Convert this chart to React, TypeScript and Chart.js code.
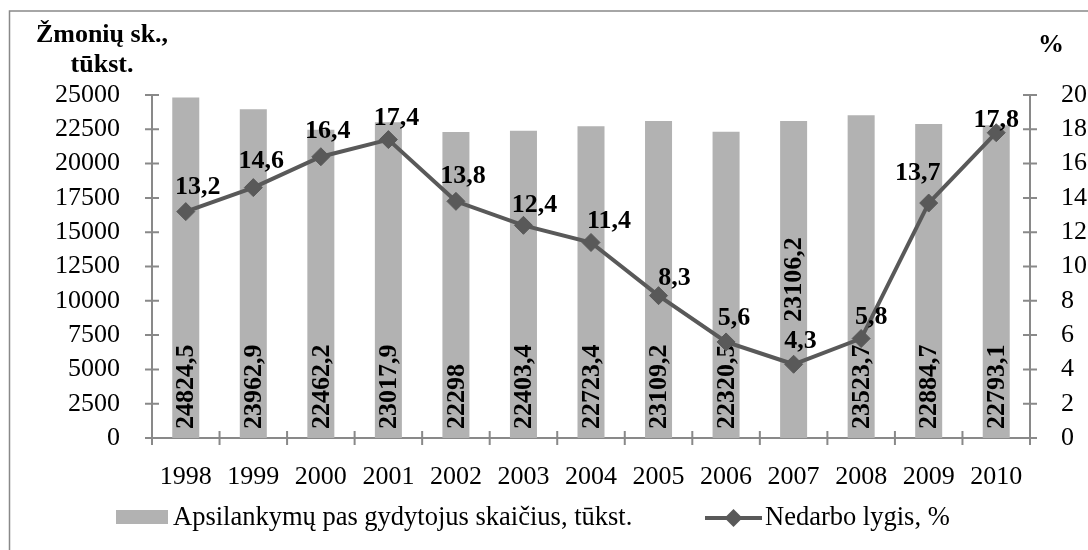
import React, { useEffect, useRef } from "react";
import { Chart, registerables } from "chart.js";

Chart.register(...registerables);

// ---- data ----
const YEARS = ["1998", "1999", "2000", "2001", "2002", "2003", "2004", "2005", "2006", "2007", "2008", "2009", "2010"];
const VISITS = [24824.5, 23962.9, 22462.2, 23017.9, 22298, 22403.4, 22723.4, 23109.2, 22320.5, 23106.2, 23523.7, 22884.7, 22793.1];
const UNEMPLOYMENT = [13.2, 14.6, 16.4, 17.4, 13.8, 12.4, 11.4, 8.3, 5.6, 4.3, 5.8, 13.7, 17.8];
const VISITS_LABEL = "Apsilankymų pas gydytojus skaičius, tūkst.";
const UNEMPLOYMENT_LABEL = "Nedarbo lygis, %";
const LEFT_TITLE = ["Žmonių sk.,", "tūkst."];
const RIGHT_TITLE = "%";
const LEFT_MAX = 25000;
const LEFT_STEP = 2500;
const RIGHT_MAX = 20;
const RIGHT_STEP = 2;

// ---- label placement styling ----
const BAR_LABEL_ANCHOR = ["base", "base", "base", "base", "base", "base", "base", "base", "base", "center", "base", "base", "base"];
const LINE_LABEL_DX = [12, 8, 7, 8, 7, 11, 18, 16, 8, 7, 10, -11, 0];
const LINE_LABEL_DY = [18, 20, 19, 15, 18, 13, 14, 11, 17, 16, 15, 23, 6];

// ---- style ----
const FONT_FAMILY = '"Liberation Serif", "Times New Roman", serif';
const BAR_COLOR = "#B2B2B2";
const LINE_COLOR = "#595959";
const AXIS_COLOR = "#898989";
const TEXT_COLOR = "#000000";

const fmt = (v: number) => String(v).replace(".", ",");

const decorPlugin = {
  id: "decor",
  beforeDatasetsDraw(chart: any) {
    const ctx = chart.ctx;
    const { left, right, top, bottom } = chart.chartArea;
    ctx.save();
    ctx.strokeStyle = AXIS_COLOR;
    ctx.lineWidth = 1.5;
    // outer frame (top & left visible)
    ctx.beginPath();
    ctx.moveTo(9.5, 600);
    ctx.lineTo(9.5, 11);
    ctx.lineTo(1200, 11);
    ctx.stroke();

    ctx.lineWidth = 2;
    ctx.beginPath();
    ctx.moveTo(left, top);
    ctx.lineTo(left, bottom + 7);
    ctx.moveTo(right, top);
    ctx.lineTo(right, bottom + 7);
    ctx.moveTo(left - 7, bottom);
    ctx.lineTo(right + 7, bottom);
    ctx.stroke();

    ctx.beginPath();
    const ys = chart.scales.y;
    ys.ticks.forEach((t: any) => {
      const py = ys.getPixelForValue(t.value);
      ctx.moveTo(left - 7, py);
      ctx.lineTo(left + 7, py);
    });
    const ys1 = chart.scales.y1;
    ys1.ticks.forEach((t: any) => {
      const py = ys1.getPixelForValue(t.value);
      ctx.moveTo(right - 7, py);
      ctx.lineTo(right + 7, py);
    });
    const n = chart.data.labels.length;
    const w = (right - left) / n;
    for (let i = 0; i <= n; i++) {
      const px = left + i * w;
      ctx.moveTo(px, bottom - 7);
      ctx.lineTo(px, bottom + 7);
    }
    ctx.stroke();
    ctx.restore();
  },
  afterDatasetDraw(chart: any, args: any) {
    if (args.index !== 0) return;
    const ctx = chart.ctx;
    const meta = chart.getDatasetMeta(0);
    const values = chart.data.datasets[0].data;
    ctx.save();
    ctx.fillStyle = TEXT_COLOR;
    ctx.font = `bold 26px ${FONT_FAMILY}`;
    meta.data.forEach((el: any, i: number) => {
      const txt = fmt(values[i]);
      ctx.save();
      if (BAR_LABEL_ANCHOR[i] === "center") {
        ctx.translate(el.x + 1, (el.y + el.base) / 2);
        ctx.rotate(-Math.PI / 2);
        ctx.textAlign = "center";
      } else {
        ctx.translate(el.x + 1, el.base - 9);
        ctx.rotate(-Math.PI / 2);
        ctx.textAlign = "left";
      }
      ctx.textBaseline = "middle";
      ctx.fillText(txt, 0, 0);
      ctx.restore();
    });
    ctx.restore();
  },
  afterDatasetsDraw(chart: any) {
    const ctx = chart.ctx;
    const meta = chart.getDatasetMeta(1);
    const values = chart.data.datasets[1].data;
    ctx.save();
    ctx.fillStyle = TEXT_COLOR;
    ctx.font = `bold 26px ${FONT_FAMILY}`;
    ctx.textAlign = "center";
    ctx.textBaseline = "alphabetic";
    meta.data.forEach((el: any, i: number) => {
      ctx.fillText(fmt(values[i]), el.x + LINE_LABEL_DX[i], el.y - LINE_LABEL_DY[i]);
    });
    ctx.restore();
  },
  afterDraw(chart: any) {
    const ctx = chart.ctx;
    ctx.save();
    ctx.fillStyle = TEXT_COLOR;
    ctx.font = `bold 26px ${FONT_FAMILY}`;
    ctx.textAlign = "center";
    ctx.textBaseline = "alphabetic";
    ctx.fillText(LEFT_TITLE[0], 102, 42);
    ctx.fillText(LEFT_TITLE[1], 102, 72);
    ctx.fillText(RIGHT_TITLE, 1051, 52);

    const ds = chart.data.datasets;
    ctx.font = `26.5px ${FONT_FAMILY}`;
    ctx.textAlign = "left";
    ctx.textBaseline = "middle";
    ctx.fillStyle = ds[0].backgroundColor;
    ctx.fillRect(116, 510, 52, 14);
    ctx.fillStyle = TEXT_COLOR;
    ctx.fillText(ds[0].label, 173, 518);

    ctx.strokeStyle = ds[1].borderColor;
    ctx.lineWidth = 4;
    ctx.beginPath();
    ctx.moveTo(705, 518);
    ctx.lineTo(762, 518);
    ctx.stroke();
    ctx.fillStyle = ds[1].borderColor;
    ctx.beginPath();
    const cx = 733.5, cy = 518, r = 9;
    ctx.moveTo(cx, cy - r);
    ctx.lineTo(cx + r, cy);
    ctx.lineTo(cx, cy + r);
    ctx.lineTo(cx - r, cy);
    ctx.closePath();
    ctx.fill();
    ctx.fillStyle = TEXT_COLOR;
    ctx.fillText(ds[1].label, 765, 518);
    ctx.restore();
  },
};

export default function App() {
  const canvasRef = useRef<HTMLCanvasElement | null>(null);

  useEffect(() => {
    const canvas = canvasRef.current;
    if (!canvas) return;
    const tickFont = { family: FONT_FAMILY, size: 26 };
    const plain = (v: any) => String(v);
    const chart = new Chart(canvas, {
      type: "bar",
      data: {
        labels: YEARS,
        datasets: [
          {
            type: "bar",
            label: VISITS_LABEL,
            data: VISITS,
            backgroundColor: BAR_COLOR,
            borderWidth: 0,
            yAxisID: "y",
            categoryPercentage: 1,
            barPercentage: 0.4,
            order: 2,
          },
          {
            type: "line",
            label: UNEMPLOYMENT_LABEL,
            data: UNEMPLOYMENT,
            borderColor: LINE_COLOR,
            backgroundColor: LINE_COLOR,
            borderWidth: 4,
            pointStyle: "rectRot",
            pointRadius: 9,
            pointBackgroundColor: LINE_COLOR,
            pointBorderColor: LINE_COLOR,
            pointBorderWidth: 1,
            tension: 0,
            yAxisID: "y1",
            order: 1,
          },
        ],
      } as any,
      options: {
        responsive: false,
        animation: false,
        maintainAspectRatio: false,
        layout: { padding: { top: 95, left: 0, right: 0, bottom: 0 } },
        plugins: {
          legend: { display: false },
          tooltip: { enabled: false },
          title: { display: false },
        },
        scales: {
          x: {
            grid: { display: false },
            border: { display: false },
            ticks: { font: tickFont, color: TEXT_COLOR, padding: 16, maxRotation: 0, autoSkip: false },
            afterFit: (s: any) => {
              s.height = 112;
            },
          },
          y: {
            position: "left",
            min: 0,
            max: LEFT_MAX,
            grid: { display: false },
            border: { display: false },
            ticks: { stepSize: LEFT_STEP, font: tickFont, color: TEXT_COLOR, padding: 24, callback: plain },
            afterFit: (s: any) => {
              s.width = 152;
            },
          },
          y1: {
            position: "right",
            min: 0,
            max: RIGHT_MAX,
            grid: { display: false },
            border: { display: false },
            ticks: { stepSize: RIGHT_STEP, font: tickFont, color: TEXT_COLOR, padding: 23, callback: plain },
            afterFit: (s: any) => {
              s.width = 58;
            },
          },
        },
      } as any,
      plugins: [decorPlugin as any],
    });
    return () => chart.destroy();
  }, []);

  return (
    <canvas
      ref={canvasRef}
      width={1088}
      height={550}
      style={{ position: "fixed", left: 0, top: 0, display: "block", background: "#fff" }}
    />
  );
}
